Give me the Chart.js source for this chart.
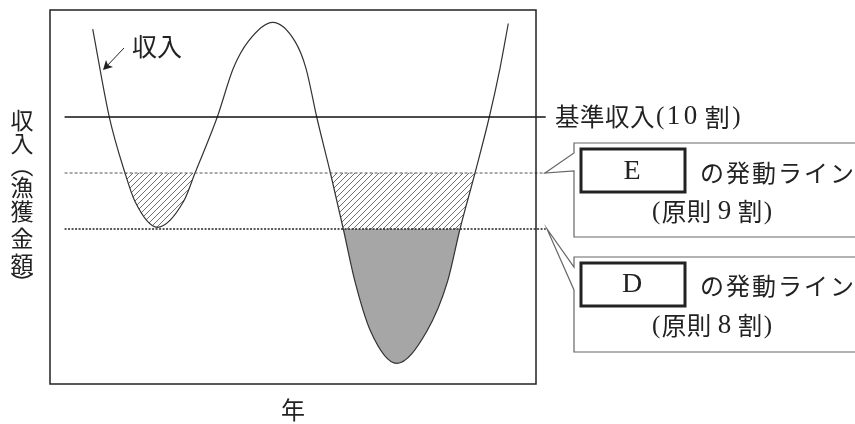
<!DOCTYPE html>
<html lang="ja">
<head>
<meta charset="utf-8">
<title>収入と発動ライン</title>
<script src="https://cdn.jsdelivr.net/npm/chart.js@4/dist/chart.umd.min.js"></script>
<style>
    html, body { margin: 0; padding: 0; background: #fff; }
    #wrap { width: 855px; height: 424px; position: relative; }
</style>
</head>
<body>
<div id="wrap"><canvas id="incomeChart"></canvas></div>
<script>
// 年 (x) と 収入 (割)
const years = [8.79, 12.20, 15.43, 17.49, 22.08, 27.47, 29.84, 34.42, 37.72, 40.80,
               45.82, 50.41, 52.67, 54.88, 57.70, 60.35, 62.76, 65.99, 71.34, 77.51,
               81.79, 84.36, 87.45, 90.39, 92.59, 94.30];
const income = [11.57, 10.0, 9.0, 8.49, 8.03, 8.49, 9.0, 10.0, 10.87, 11.35,
                11.69, 11.35, 10.87, 10.0, 9.0, 8.0, 7.06, 6.17, 5.60, 6.17,
                7.06, 8.0, 9.0, 10.0, 10.87, 11.67];

// 基準収入 / E / D の発動ライン (割)
const levelNames = ['基準収入', 'E', 'D'];
const levels = [10, 9, 8];
const levelSpan = [3.0, 102.0];

const yRange = [5.232, 11.911];
const xRange = [0, 100];

const curve = years.map((x, i) => ({x: x, y: income[i]}));
const levelLine = (v) => [{x: levelSpan[0], y: v}, {x: levelSpan[1], y: v}];

const ctx = document.getElementById('incomeChart').getContext('2d');

const makeHatch = () => {
    const c = document.createElement('canvas');
    c.width = 6; c.height = 6;
    const g = c.getContext('2d');
    g.strokeStyle = '#333';
    g.lineWidth = 0.7;
    g.beginPath();
    g.moveTo(0, 6); g.lineTo(6, 0);
    g.moveTo(-1, 1); g.lineTo(1, -1);
    g.moveTo(5, 7); g.lineTo(7, 5);
    g.stroke();
    return ctx.createPattern(c, 'repeat');
};
const hatch = makeHatch();

const jp = '"Noto Sans CJK JP", "Noto Sans", sans-serif';
const serif = '"Liberation Serif", "DejaVu Serif", serif';

// draws a row of text pieces with their own fonts, left to right
const drawRuns = (c, x, y, runs) => {
    c.textAlign = 'left';
    runs.forEach(([text, font, gap]) => {
        c.font = font;
        c.fillText(text, x, y);
        x += c.measureText(text).width + (gap || 0);
    });
};

const drawCallout = (c, tipX, tipY, top, gapTop, gapBottom, bottom) => {
    c.beginPath();
    c.moveTo(860, top);
    c.lineTo(574, top);
    c.lineTo(574, gapTop);
    c.lineTo(tipX, tipY);
    c.lineTo(574, gapBottom);
    c.lineTo(574, bottom);
    c.lineTo(860, bottom);
    c.stroke();
};

const annotations = {
    id: 'annotations',
    afterDatasetsDraw(chart){
        const c = chart.ctx;
        const a = chart.chartArea;
        c.save();
        // frame
        c.strokeStyle = '#222';
        c.lineWidth = 1.5;
        c.strokeRect(a.left, a.top, a.right - a.left, a.bottom - a.top);

        // arrow to the curve
        c.lineWidth = 1;
        c.strokeStyle = '#222';
        c.beginPath();
        c.moveTo(124, 48); c.lineTo(105, 68);
        c.stroke();
        c.fillStyle = '#222';
        c.beginPath();
        c.moveTo(103, 70); c.lineTo(106, 60); c.lineTo(108, 65); c.lineTo(113, 67);
        c.closePath();
        c.fill();

        // callouts
        c.strokeStyle = '#666';
        c.lineWidth = 1.2;
        drawCallout(c, 545, 173, 143, 153, 171, 237);
        drawCallout(c, 547, 229, 257, 267, 290, 352);
        c.strokeStyle = '#222';
        c.lineWidth = 3;
        c.strokeRect(581, 149, 104, 43);
        c.strokeRect(581, 263, 104, 43);

        c.fillStyle = '#222';
        c.textBaseline = 'middle';

        c.font = '25px ' + jp;
        c.textAlign = 'left';
        c.fillText('収入', 132, 46);

        c.textAlign = 'center';
        c.font = '24px ' + jp;
        c.fillText('年', 293, 410);

        // vertical y label
        c.font = '23px ' + jp;
        const yChars = ['収', '入', '︵', '漁', '獲', '金', '額', '︶'];
        const yPos = [120, 143, 165, 187, 211, 238, 264, 283];
        yChars.forEach((ch, i) => c.fillText(ch, 22, yPos[i]));

        c.letterSpacing = '0.5px';
        drawRuns(c, 555, 117, [['基準収入', '24.5px ' + jp, 1], ['(', '25px ' + serif, 2],
            ['1', '27px ' + serif, 3], ['0', '27px ' + serif, 7], ['割', '25px ' + jp, 2], [')', '25px ' + serif]]);

        c.letterSpacing = '0px';
        c.font = '28px ' + serif;
        c.textAlign = 'center';
        c.fillText(levelNames[1], 632, 172);
        c.fillText(levelNames[2], 632, 285);

        c.font = '24px ' + jp;
        c.textAlign = 'left';
        c.letterSpacing = '2px';
        c.fillText('の発動ライン', 700, 173);
        c.fillText('の発動ライン', 700, 286);
        c.letterSpacing = '0.5px';

        const ratioRow = (num, y) => drawRuns(c, 652, y, [['(', '25px ' + serif, 1], ['原則', '24.5px ' + jp, 6],
            [num, '27px ' + serif, 6], ['割', '24.5px ' + jp, 1], [')', '25px ' + serif]]);
        ratioRow('9', 212);
        ratioRow('8', 326);
        c.restore();
    }
};

const chart = new Chart(ctx, {
    type: 'line',
    data: {
        datasets: [
            {
                label: levelNames[0],
                data: levelLine(levels[0]),
                borderColor: '#111',
                borderWidth: 1.5,
                pointRadius: 0,
                clip: false,
                order: 0
            },
            {
                label: levelNames[1],
                data: levelLine(levels[1]),
                borderColor: '#555',
                borderWidth: 1,
                borderDash: [3, 2],
                pointRadius: 0,
                clip: false,
                order: 0
            },
            {
                label: levelNames[2],
                data: levelLine(levels[2]),
                borderColor: '#222',
                borderWidth: 1.5,
                borderDash: [2, 1.5],
                pointRadius: 0,
                clip: false,
                order: 0
            },
            {
                label: '収入',
                data: curve,
                borderColor: '#333',
                borderWidth: 1.2,
                pointRadius: 0,
                cubicInterpolationMode: 'monotone',
                fill: false,
                order: 1
            },
            {
                label: 'D 以下',
                data: curve,
                borderColor: 'transparent',
                borderWidth: 0,
                pointRadius: 0,
                cubicInterpolationMode: 'monotone',
                fill: {target: {value: levels[2]}, above: 'rgba(0,0,0,0)', below: '#a6a6a6'},
                order: 2
            },
            {
                label: 'E 以下',
                data: curve,
                borderColor: 'transparent',
                borderWidth: 0,
                pointRadius: 0,
                cubicInterpolationMode: 'monotone',
                fill: {target: {value: levels[1]}, above: 'rgba(0,0,0,0)', below: hatch},
                order: 3
            }
        ]
    },
    options: {
        responsive: true,
        maintainAspectRatio: false,
        animation: false,
        layout: {padding: {left: 50, top: 10, right: 319, bottom: 40}},
        scales: {
            x: {type: 'linear', min: xRange[0], max: xRange[1], display: false},
            y: {type: 'linear', min: yRange[0], max: yRange[1], display: false}
        },
        plugins: {
            legend: {display: false},
            tooltip: {enabled: false}
        }
    },
    plugins: [annotations]
});
</script>
</body>
</html>
